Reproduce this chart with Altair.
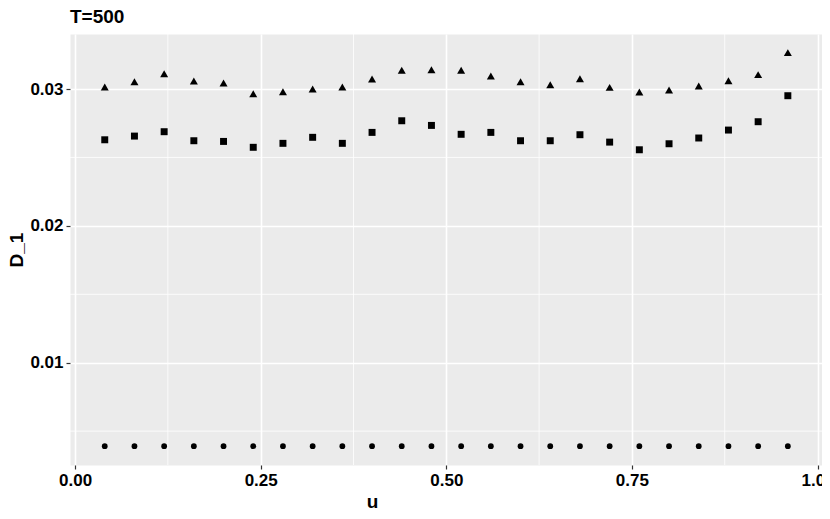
import altair as alt
import pandas as pd

# ---- data ----
u = [0.04, 0.08, 0.12, 0.16, 0.20, 0.24, 0.28, 0.32, 0.36, 0.40, 0.44, 0.48,
     0.52, 0.56, 0.60, 0.64, 0.68, 0.72, 0.76, 0.80, 0.84, 0.88, 0.92, 0.96]

d1_triangle = [0.03015, 0.03053, 0.03112, 0.03059, 0.03044, 0.02966, 0.02980, 0.03000,
               0.03015, 0.03073, 0.03137, 0.03141, 0.03137, 0.03095, 0.03053, 0.03031,
               0.03075, 0.03012, 0.02978, 0.02993, 0.03022, 0.03061, 0.03105, 0.03266]

d1_square = [0.02629, 0.02656, 0.02688, 0.02622, 0.02617, 0.02574, 0.02603, 0.02647,
             0.02603, 0.02683, 0.02768, 0.02734, 0.02669, 0.02683, 0.02622, 0.02622,
             0.02666, 0.02612, 0.02556, 0.02600, 0.02642, 0.02700, 0.02761, 0.02951]

d1_circle = [0.0039, 0.0039, 0.0039, 0.0039, 0.0039, 0.0039, 0.0039, 0.0039,
             0.0039, 0.0039, 0.0039, 0.0039, 0.0039, 0.0039, 0.0039, 0.0039,
             0.0039, 0.0039, 0.0039, 0.0039, 0.0039, 0.0039, 0.0039, 0.0039]

series_names = ["s1", "s2", "s3"]

x_ticks = [0.0, 0.25, 0.5, 0.75, 1.0]
y_ticks = [0.01, 0.02, 0.03]
x_minor_grid = [0.125, 0.375, 0.625, 0.875]
y_minor_grid = [0.005, 0.015, 0.025]

# ---- tables ----
rows = []
for name, vals in zip(series_names, [d1_triangle, d1_square, d1_circle]):
    for uu, v in zip(u, vals):
        rows.append({"u": uu, "D_1": v, "series": name})
df = pd.DataFrame(rows)
xm = pd.DataFrame({"u": x_minor_grid})
ym = pd.DataFrame({"D_1": y_minor_grid})

xs = alt.Scale(domain=[-0.0068, 1.006], nice=False, zero=False)
ys = alt.Scale(domain=[0.002525, 0.03402], nice=False, zero=False)
x_axis = alt.Axis(values=x_ticks, format=".2f", title="u", titleX=302)
y_axis = alt.Axis(values=y_ticks, format=".2f", title="D_1", titlePadding=3)

x_minor = alt.Chart(xm).mark_rule(color="white", strokeWidth=0.8).encode(
    x=alt.X("u:Q", scale=xs, axis=x_axis)
)
y_minor = alt.Chart(ym).mark_rule(color="white", strokeWidth=0.8).encode(
    y=alt.Y("D_1:Q", scale=ys, axis=y_axis)
)

points = alt.Chart(df).mark_point(filled=True, opacity=1, color="black").encode(
    x=alt.X("u:Q", scale=xs, axis=x_axis),
    y=alt.Y("D_1:Q", scale=ys, axis=y_axis),
    shape=alt.Shape("series:N",
                    scale=alt.Scale(domain=series_names,
                                    range=["triangle-up", "square", "circle"]),
                    legend=None),
    size=alt.Size("series:N",
                  scale=alt.Scale(domain=series_names, range=[64, 33, 26]),
                  legend=None),
)

chart = alt.layer(x_minor, y_minor, points).properties(
    width=752,
    height=431,
    autosize=alt.AutoSizeParams(type="none"),
    padding={"left": 62, "top": 26, "right": 0, "bottom": 46},
    title=alt.TitleParams("T=500", anchor="start", frame="group", fontSize=19,
                          fontWeight="bold", font="Liberation Sans", color="black",
                          offset=7),
).configure_view(
    fill="#EBEBEB", stroke="transparent"
).configure_axis(
    grid=True, gridColor="white", gridWidth=1.6,
    domain=False,
    tickColor="#333333", tickSize=4, tickWidth=1.2,
    labelFont="Liberation Sans", labelFontSize=17, labelFontWeight="bold",
    labelColor="black", labelPadding=3, labelFlush=False,
    titleFont="Liberation Sans", titleFontSize=19, titleFontWeight="bold",
    titleColor="black", titlePadding=4,
)

chart.save("out.html", embed_options={"renderer": "svg", "actions": False})
